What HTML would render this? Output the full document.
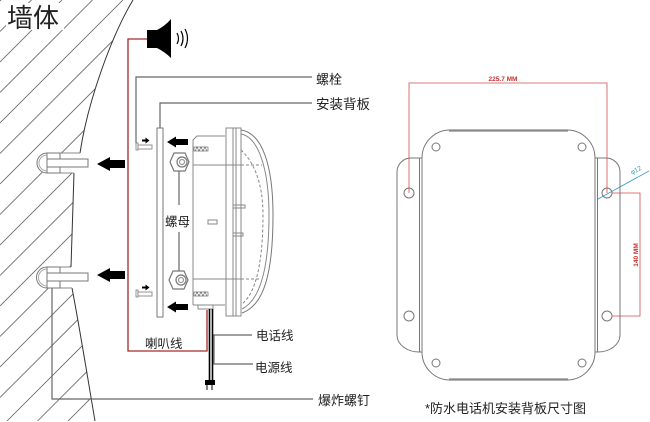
<!DOCTYPE html>
<html><head><meta charset="utf-8"><style>
html,body{margin:0;padding:0;background:#fff;width:650px;height:422px;overflow:hidden}
svg{display:block}
text{font-family:"Liberation Sans","Noto Sans CJK SC",sans-serif;fill:#222}
</style></head><body>
<svg width="650" height="422" viewBox="0 0 650 422" xmlns="http://www.w3.org/2000/svg">
<defs>
<clipPath id="wall"><path d="M0,0 L133,0 C112,35 88,100 80,153 L60,153 L60,173 L74,173 L71,267 L60,267 L60,288 L72,288 C80,330 88,380 95,421 L0,421 Z"/></clipPath>
</defs>
<!-- hatch -->
<g clip-path="url(#wall)" stroke="#666" stroke-width="0.85">
<line x1="0" y1="1" x2="1" y2="0"/><line x1="0" y1="31.5" x2="31.5" y2="0"/><line x1="0" y1="62" x2="62" y2="0"/><line x1="0" y1="92.5" x2="92.5" y2="0"/><line x1="0" y1="123" x2="123" y2="0"/><line x1="0" y1="153.5" x2="140" y2="13.5"/><line x1="0" y1="184" x2="140" y2="44"/><line x1="0" y1="214.5" x2="140" y2="74.5"/><line x1="0" y1="245" x2="140" y2="105"/><line x1="0" y1="275.5" x2="140" y2="135.5"/><line x1="0" y1="306" x2="140" y2="166"/><line x1="0" y1="336.5" x2="140" y2="196.5"/><line x1="0" y1="367" x2="140" y2="227"/><line x1="0" y1="397.5" x2="140" y2="257.5"/><line x1="7" y1="421" x2="140" y2="288"/><line x1="37.5" y1="421" x2="140" y2="318.5"/><line x1="68" y1="421" x2="140" y2="349"/>
</g>
<!-- title bg -->
<rect x="6" y="3" width="58" height="27" fill="#fff"/>
<text x="7" y="27" font-size="26" fill="#111">墙体</text>
<!-- wall boundary -->
<g fill="none" stroke="#333" stroke-width="1">
<path d="M133,0 C112,35 88,100 80,153"/>
<path d="M74,173 L71,267"/>
<path d="M72,288 C80,330 88,380 95,421"/>
</g>
<g fill="none" stroke="#888" stroke-width="1">
<path d="M80,153 L60,153 M60,173 L74,173 M71,267 L60,267 M60,288 L72,288"/>
</g>
<!-- anchors -->
<g stroke="#777" stroke-width="1" fill="#fff">
<path d="M60,153 L47,153 A10,10 0 0 0 47,173 L60,173 Z"/>
<rect x="47" y="159" width="41" height="8"/>
<line x1="47" y1="153" x2="47" y2="173"/>
<path d="M47,155 A8,8 0 0 0 47,171" fill="none" stroke="#aaa"/>
<path d="M60,267 L47,267 A10.5,10.5 0 0 0 47,288 L60,288 Z"/>
<rect x="47" y="273" width="41" height="8"/>
<line x1="47" y1="267" x2="47" y2="288"/>
<path d="M47,269 A8.5,8.5 0 0 0 47,286" fill="none" stroke="#aaa"/>
</g>
<!-- big arrows -->
<g fill="#000">
<polygon points="97,164 110,157 110,160 125,160 125,168 110,168 110,171"/>
<polygon points="97,275 110,268 110,271 125,271 125,279 110,279 110,282"/>
<!-- medium arrows -->
<polygon points="167,142 176,136.5 176,139 188,139 188,145 176,145 176,147.5"/>
<polygon points="167,307 176,301.5 176,304 188,304 188,310 176,310 176,312.5"/>
<!-- small arrows -->
<polygon points="149.5,140.5 145.5,137.5 145.5,139.5 142,139.5 142,141.5 145.5,141.5 145.5,143.5"/>
<polygon points="149.5,287.5 145.5,284.5 145.5,286.5 142,286.5 142,288.5 145.5,288.5 145.5,290.5"/>
</g>
<!-- small bolts -->
<g stroke="#888" stroke-width="0.9" fill="#fff">
<rect x="136" y="143" width="2" height="7"/><rect x="138" y="145" width="14" height="4"/>
<rect x="136" y="290" width="2" height="7"/><rect x="138" y="292" width="14" height="4"/>
</g>
<!-- red speaker wire -->
<polyline points="147,39 128,39 128,351 207,351 207,310" fill="none" stroke="#a52a2a" stroke-width="1.3"/>
<!-- speaker -->
<rect x="147" y="30" width="10" height="18" fill="#000"/>
<path d="M157,30 Q165,26 171,19 L171,58 Q165,52 157,48 Z" fill="#000"/>
<g fill="none" stroke="#000" stroke-width="1.2">
<path d="M177,33 Q180,38.5 177,44"/>
<path d="M181,31 Q185,38.5 181,46"/>
<path d="M185,29 Q190,38.5 185,48"/>
</g>
<!-- leaders -->
<g fill="none" stroke="#666" stroke-width="1.2">
<polyline points="136,143 136,77 312,77"/>
<polyline points="160,128 160,103 312,103"/>
<polyline points="52,288 52,399 313,399"/>
<line x1="179" y1="171" x2="179" y2="205"/>
<line x1="179" y1="232" x2="179" y2="271"/>
<line x1="213" y1="335" x2="252" y2="335"/>
<polyline points="214,335 214,364 253,364"/>
</g>
<!-- mounting plate -->
<rect x="157" y="128" width="6" height="189" fill="#fff" stroke="#777" stroke-width="1"/>
<!-- nuts -->
<g stroke="#777" stroke-width="1.2" fill="#fff">
<polygon points="174,153 185,153 189,162 185,171 174,171 170,162"/>
<circle cx="182" cy="162" r="5"/>
<circle cx="182" cy="162" r="2.5" fill="none" stroke="#999"/>
<polygon points="173,271 184,271 188,280 184,289 173,289 169,280"/>
<circle cx="181" cy="280" r="5"/>
<circle cx="181" cy="280" r="2.5" fill="none" stroke="#999"/>
</g>
<!-- device -->
<g fill="none" stroke="#888" stroke-width="1">
<path d="M193,305 L193,140 L197,136 L225,136"/>
<path d="M193,305 L225,305"/>
<path d="M198,305 L198,309 L213,309 L213,305"/>
<line x1="193" y1="165" x2="241" y2="165"/>
<line x1="193" y1="279" x2="241" y2="279"/>
<rect x="226" y="128" width="15" height="188"/>
<line x1="233" y1="128" x2="233" y2="316"/>
<line x1="236" y1="128" x2="236" y2="316"/>
<rect x="208" y="220" width="9" height="4"/>
<rect x="233" y="205" width="12" height="3"/>
<rect x="233" y="233" width="10" height="3"/>
<path d="M241,130 C262,133 273,165 273,215 C273,270 265,305 242,313" stroke="#777"/>
<path d="M241,134 C258,137 269,168 269,215 C269,268 260,300 242,309"/>
<path d="M241,150 C252,160 263,180 263,215 C263,262 256,293 242,304" stroke-dasharray="3,2"/>
<line x1="241" y1="165" x2="262" y2="165" stroke-dasharray="3,2"/>
<line x1="241" y1="279" x2="260" y2="279" stroke-dasharray="3,2"/>
</g>
<g stroke="#555" stroke-width="0.6" fill="#fff">
<rect x="194" y="147" width="14" height="4"/>
<path d="M195,151 L197,147 L199,151 L201,147 L203,151 L205,147 L207,151" fill="none"/>
<rect x="194" y="292" width="14" height="4"/>
<path d="M195,296 L197,292 L199,296 L201,292 L203,296 L205,292 L207,296" fill="none"/>
</g>
<!-- wires -->
<g stroke="#000" stroke-width="1.6">
<line x1="209.5" y1="309" x2="209.5" y2="381"/>
<line x1="212.5" y1="309" x2="212.5" y2="381"/>
</g>
<rect x="205" y="380" width="10" height="5" fill="#000"/>
<g stroke="#000" stroke-width="1"><line x1="207" y1="385" x2="207" y2="390"/><line x1="212" y1="385" x2="212" y2="390"/></g>
<!-- labels -->
<text x="316" y="84" font-size="13">螺栓</text>
<text x="316" y="109" font-size="13.5">安装背板</text>
<text x="165" y="226" font-size="12.5">螺母</text>
<text x="145" y="348" font-size="12.5">喇叭线</text>
<text x="256" y="340" font-size="12.5">电话线</text>
<text x="255" y="372" font-size="12.5">电源线</text>
<text x="318" y="405" font-size="13">爆炸螺钉</text>
<!-- right drawing: plate -->
<g fill="none" stroke="#777" stroke-width="1">
<path d="M450,130 L567,130 A28,28 0 0 1 595,158 L595,352 A28,28 0 0 1 567,380 L450,380 A28,28 0 0 1 422,352 L422,158 A28,28 0 0 1 450,130 Z"/>
<path d="M422,158 L411,158 A14,14 0 0 0 397,172 L397,335 A22,17 0 0 0 419,352 L422,352"/>
<line x1="419.5" y1="158" x2="419.5" y2="352"/>
<path d="M595,158 L606,158 A14,14 0 0 1 620,172 L620,335 A22,17 0 0 1 598,352 L595,352"/>
<line x1="597.5" y1="158" x2="597.5" y2="352"/>
<circle cx="436" cy="147" r="4"/><circle cx="582" cy="147" r="4"/>
<circle cx="409" cy="193" r="5"/><circle cx="607" cy="193" r="5"/>
<circle cx="409" cy="316" r="5"/><circle cx="607" cy="316" r="5"/>
<circle cx="436" cy="363" r="4"/><circle cx="582" cy="363" r="4"/>
</g>
<g stroke="#888" stroke-width="2.2"><line x1="449" y1="130.5" x2="568" y2="130.5"/><line x1="449" y1="379.5" x2="568" y2="379.5"/></g>
<!-- dimensions -->
<g fill="none" stroke="#d05050" stroke-width="0.8">
<polyline points="409,193 409,83 607,83 607,193"/>
<polyline points="612,193 640,193 640,316 612,316"/>
</g>
<text x="503" y="81" font-size="6.5" font-weight="bold" text-anchor="middle" style="fill:#c83030">225.7 MM</text>
<text x="0" y="0" font-size="6.5" font-weight="bold" text-anchor="middle" transform="translate(638,255) rotate(-90)" style="fill:#c83030">140 MM</text>
<line x1="598" y1="199" x2="649" y2="171" stroke="#3a9cc0" stroke-width="0.8"/>
<text x="0" y="0" font-size="6.5" text-anchor="middle" transform="translate(637,172) rotate(-29)" style="fill:#3a9cc0">φ12</text>
<text x="425" y="413" font-size="13">*防水电话机安装背板尺寸图</text>
</svg>
</body></html>
